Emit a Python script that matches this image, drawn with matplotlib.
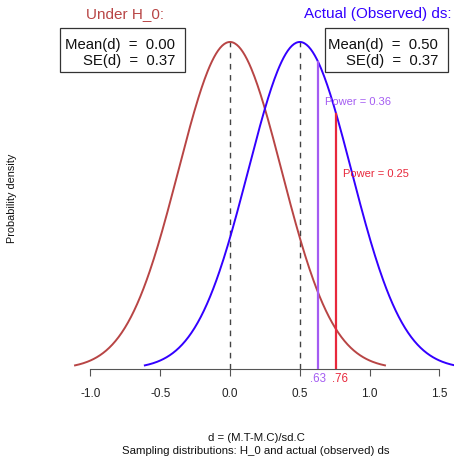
import numpy as np
import matplotlib
matplotlib.use("Agg")
import matplotlib.pyplot as plt
from matplotlib.patches import Rectangle

plt.rcParams['font.family'] = ['Liberation Sans', 'DejaVu Sans']

# ---- data ----
means = [0.00, 0.50]          # H_0 and actual
se = 0.37
crit_values = [0.63, 0.76]
crit_labels = [".63", ".76"]
powers = [0.36, 0.25]
xticks = [-1.0, -0.5, 0.0, 0.5, 1.0, 1.5]
xtick_labels = ["-1.0", "-0.5", "0.0", "0.5", "1.0", "1.5"]

col_h0 = "#B84545"
col_act = "#3300FF"
crit_colors = ["#A45CF2", "#E8283C"]

W, H = 454, 460
fig = plt.figure(figsize=(W/100, H/100), dpi=100)

px_per_x = 139.6
px_per_y = 303.3
ax_l, ax_r, ax_t, ax_b = 60, 454, 30, 370
ax = fig.add_axes([ax_l/W, (H-ax_b)/H, (ax_r-ax_l)/W, (ax_b-ax_t)/H])
ax.set_xlim((ax_l-230)/px_per_x, (ax_r-230)/px_per_x)
ax.set_ylim(0, (ax_b-ax_t)/px_per_y)


def pdf(x, m, s):
    return np.exp(-0.5*((x-m)/s)**2)/(s*np.sqrt(2*np.pi))


for m, c in zip(means, [col_h0, col_act]):
    xs = np.linspace(m-3*se, m+3*se, 300)
    ax.plot(xs, pdf(xs, m, se), color=c, lw=1.4, clip_on=False, zorder=3)
    ax.plot([m, m], [0, pdf(m, m, se)], color="#444444", lw=1.0,
            dashes=(4, 4), zorder=2)

text_y = [0.884, 0.646]
label_nudge = [0, 3]
for cv, lab, p, c, ty, nd in zip(crit_values, crit_labels, powers,
                                 crit_colors, text_y, label_nudge):
    ax.plot([cv, cv], [0, pdf(cv, means[1], se)], color=c, lw=1.6, zorder=4)
    ax.text(cv+0.05, ty, f"Power = {p:.2f}", color=c, fontsize=8,
            ha='left', va='center', zorder=5)
    ax.annotate(lab, (cv, 0), xytext=(nd, -2), textcoords='offset points',
                color=c, fontsize=8.3, ha='center', va='top',
                annotation_clip=False)

for s in ['top', 'right', 'left']:
    ax.spines[s].set_visible(False)
ax.spines['bottom'].set_bounds(-1.0, 1.5)
ax.spines['bottom'].set_color("#555555")
ax.set_yticks([])
ax.set_xticks(xticks)
ax.set_xticklabels(xtick_labels)
ax.tick_params(axis='x', length=5, width=0.8, color="#555555", pad=8,
               labelsize=8.5, labelcolor="#222222")

# titles
fig.text(125/W, 1-14/H, "Under H_0:", color=col_h0, fontsize=11,
         ha='center', va='center')
fig.text(378/W, 1-14/H, "Actual (Observed) ds:", color=col_act, fontsize=11,
         ha='center', va='center')

# boxes
for (x0, x1), m in zip([(60, 185), (325, 448)], means):
    fig.patches.append(Rectangle((x0/W, 1-73/H), (x1-x0)/W, 44/H,
                                 transform=fig.transFigure, fill=False,
                                 edgecolor="#333333", lw=0.9))
    fig.text((x1-10)/W, 1-49/H, f"Mean(d)  =  {m:.2f}", fontsize=10.7,
             ha='right', va='baseline', color="#111111")
    fig.text((x1-10)/W, 1-65/H, f"SE(d)  =  {se:.2f}", fontsize=10.7,
             ha='right', va='baseline', color="#111111")

# axis labels
fig.text(12/W, 1-198/H, "Probability density", rotation=90, fontsize=7.8,
         ha='center', va='center', color="#111111")
fig.text(256/W, 1-441/H, "d = (M.T-M.C)/sd.C", fontsize=8.2,
         ha='center', va='baseline', color="#111111")
fig.text(256/W, 1-454/H, "Sampling distributions: H_0 and actual (observed) ds",
         fontsize=8.2, ha='center', va='baseline', color="#111111")

fig.savefig("out.png", dpi=100)
